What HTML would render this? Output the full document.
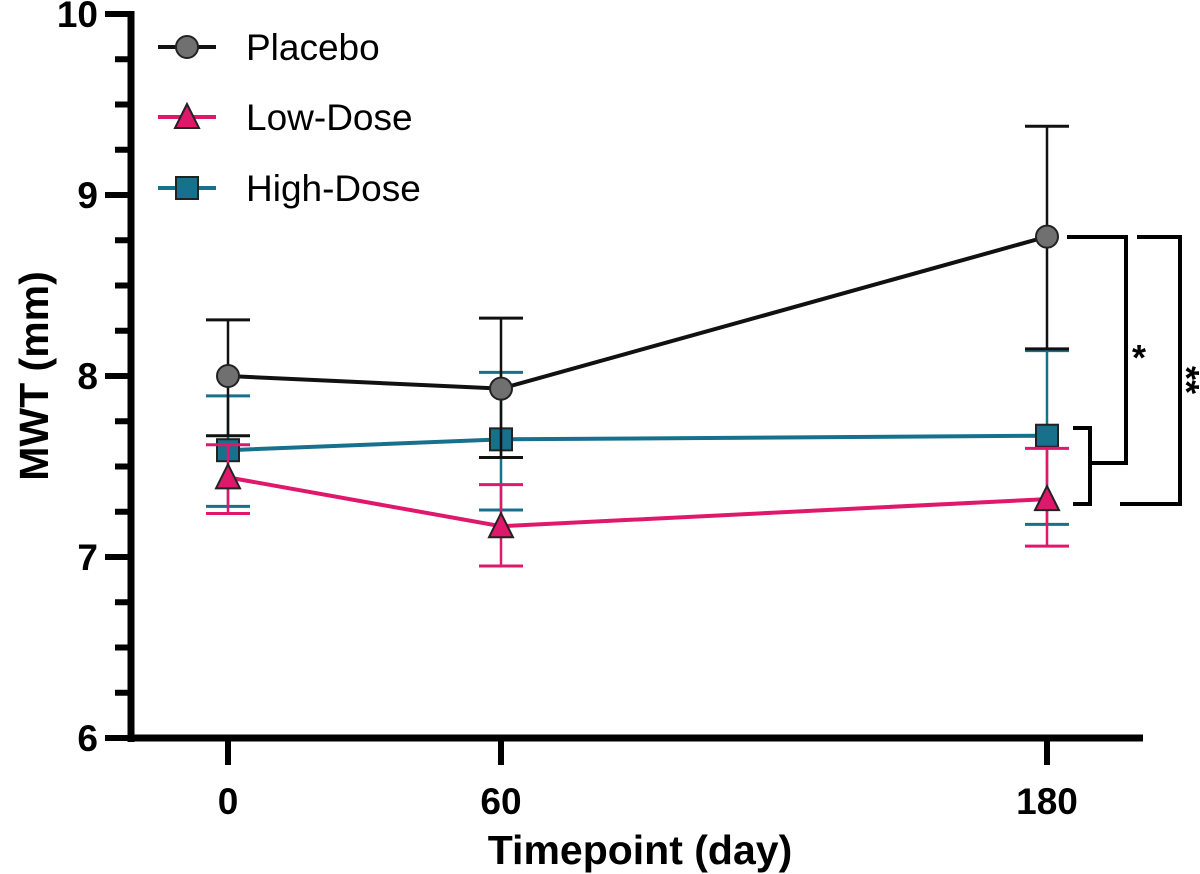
<!DOCTYPE html>
<html><head><meta charset="utf-8"><style>
body{margin:0;background:#fff;}
svg{display:block;font-family:"Liberation Sans",Arial,sans-serif;}
</style></head><body>
<svg id="chart" width="1200" height="874" viewBox="0 0 1200 874"></svg>
<script>
const days=[0,60,180];
const xLabels=["0","60","180"];
const yTicks=[6,7,8,9,10];
const placebo=[8.0,7.93,8.77];
const placeboHi=[8.31,8.32,9.38];
const placeboLo=[7.67,7.55,8.15];
const lowDose=[7.44,7.17,7.32];
const lowHi=[7.62,7.40,7.60];
const lowLo=[7.24,6.95,7.06];
const highDose=[7.59,7.65,7.67];
const highHi=[7.89,8.02,8.14];
const highLo=[7.28,7.26,7.18];

const svg=document.getElementById('chart');
const NS='http://www.w3.org/2000/svg';
function X(d){return 228+d*(1047-228)/180;}
function Y(v){return 738-(v-6)*181;}
function mk(tag,attrs,name,parent){const e=document.createElementNS(NS,tag);for(const k in attrs)e.setAttribute(k,attrs[k]);


(parent||svg).appendChild(e);return e;}
function txt(x,y,s,size,name,extra){const t=mk('text',Object.assign({x:x,y:y,'font-size':size,fill:'#000'},extra||{}),name);t.textContent=s;return t;}

// axes
mk('line',{x1:131,y1:11,x2:131,y2:742,stroke:'#000','stroke-width':7},'y-axis-line');
mk('line',{x1:128,y1:738,x2:1143,y2:738,stroke:'#000','stroke-width':7},'x-axis-line');
for(let v=6;v<=10.001;v+=0.25){const major=Math.abs(v-Math.round(v))<1e-6;
mk('line',{x1:major?105:115,y1:Y(v),x2:131,y2:Y(v),stroke:'#000','stroke-width':6},major?'y-major-tick':'y-minor-tick');}
yTicks.forEach(v=>txt(98,Y(v)+13,String(v),37,'y-tick-label',{'text-anchor':'end','font-weight':'bold'}));
days.forEach((d,i)=>{mk('line',{x1:X(d),y1:738,x2:X(d),y2:765,stroke:'#000','stroke-width':6},'x-tick');
txt(X(d),814,xLabels[i],37,'x-tick-label',{'text-anchor':'middle','font-weight':'bold'});});
txt(640,864,'Timepoint (day)',41,'x-axis-title',{'text-anchor':'middle','font-weight':'bold'});
txt(0,0,'MWT (mm)',41,'y-axis-title',{'text-anchor':'middle','font-weight':'bold',transform:'translate(48,376) rotate(-90)'});

function series(vals,hi,lo,color,name,marker){
 const g=mk('g',{},name+'-series');
 vals.forEach((v,i)=>{const x=X(days[i]);
  mk('line',{x1:x,y1:Y(hi[i]),x2:x,y2:Y(lo[i]),stroke:color,'stroke-width':2.5},name+'-error-bar',g);
  [hi[i],lo[i]].forEach(e=>mk('line',{x1:x-22,y1:Y(e),x2:x+22,y2:Y(e),stroke:color,'stroke-width':3},name+'-error-cap',g));});
 mk('polyline',{points:vals.map((v,i)=>X(days[i])+','+Y(v)).join(' '),fill:'none',stroke:color,'stroke-width':4},name+'-line',g);
 vals.forEach((v,i)=>marker(X(days[i]),Y(v),g,name));
}
const circ=(x,y,g,n)=>mk('circle',{cx:x,cy:y,r:11,fill:'#707070',stroke:'#222','stroke-width':2},n+'-point',g);
const tri=(x,y,g,n)=>mk('polygon',{points:`${x},${y-13} ${x-12},${y+11} ${x+12},${y+11}`,fill:'#e0186c',stroke:'#222','stroke-width':2},n+'-point',g);
const sq=(x,y,g,n)=>mk('rect',{x:x-11,y:y-11,width:22,height:22,fill:'#17708c',stroke:'#222','stroke-width':2},n+'-point',g);
series(highDose,highHi,highLo,'#17708c','high-dose',sq);
series(lowDose,lowHi,lowLo,'#e0186c','low-dose',tri);
series(placebo,placeboHi,placeboLo,'#111','placebo',circ);

// brackets
mk('polyline',{points:'1073,428 1090,428 1090,504 1073,504',fill:'none',stroke:'#000','stroke-width':4},'sig-bracket-inner');
mk('polyline',{points:'1067,237 1126,237 1126,463 1090,463',fill:'none',stroke:'#000','stroke-width':4},'sig-bracket-placebo-high');
mk('polyline',{points:'1137,237 1180,237 1180,504 1120,504',fill:'none',stroke:'#000','stroke-width':4},'sig-bracket-placebo-low');
txt(1139,370,'*',36,'sig-star-single',{'text-anchor':'middle','font-weight':'bold'});
txt(0,0,'**',36,'sig-star-double',{'text-anchor':'middle','font-weight':'bold',transform:'translate(1174,380) rotate(90)'});

// legend
const leg=[['Placebo','#111',circ,47],['Low-Dose','#e0186c',tri,117],['High-Dose','#17708c',sq,188]];
leg.forEach(l=>{const g=mk('g',{},'legend-entry');
 mk('line',{x1:158,y1:l[3],x2:216,y2:l[3],stroke:l[1],'stroke-width':4},'legend-line',g);
 l[2](187,l[3],g,'legend');
 const t=mk('text',{x:246,y:l[3]+13,'font-size':37,fill:'#000'},'legend-label',g);t.textContent=l[0];});
</script>
</body></html>
